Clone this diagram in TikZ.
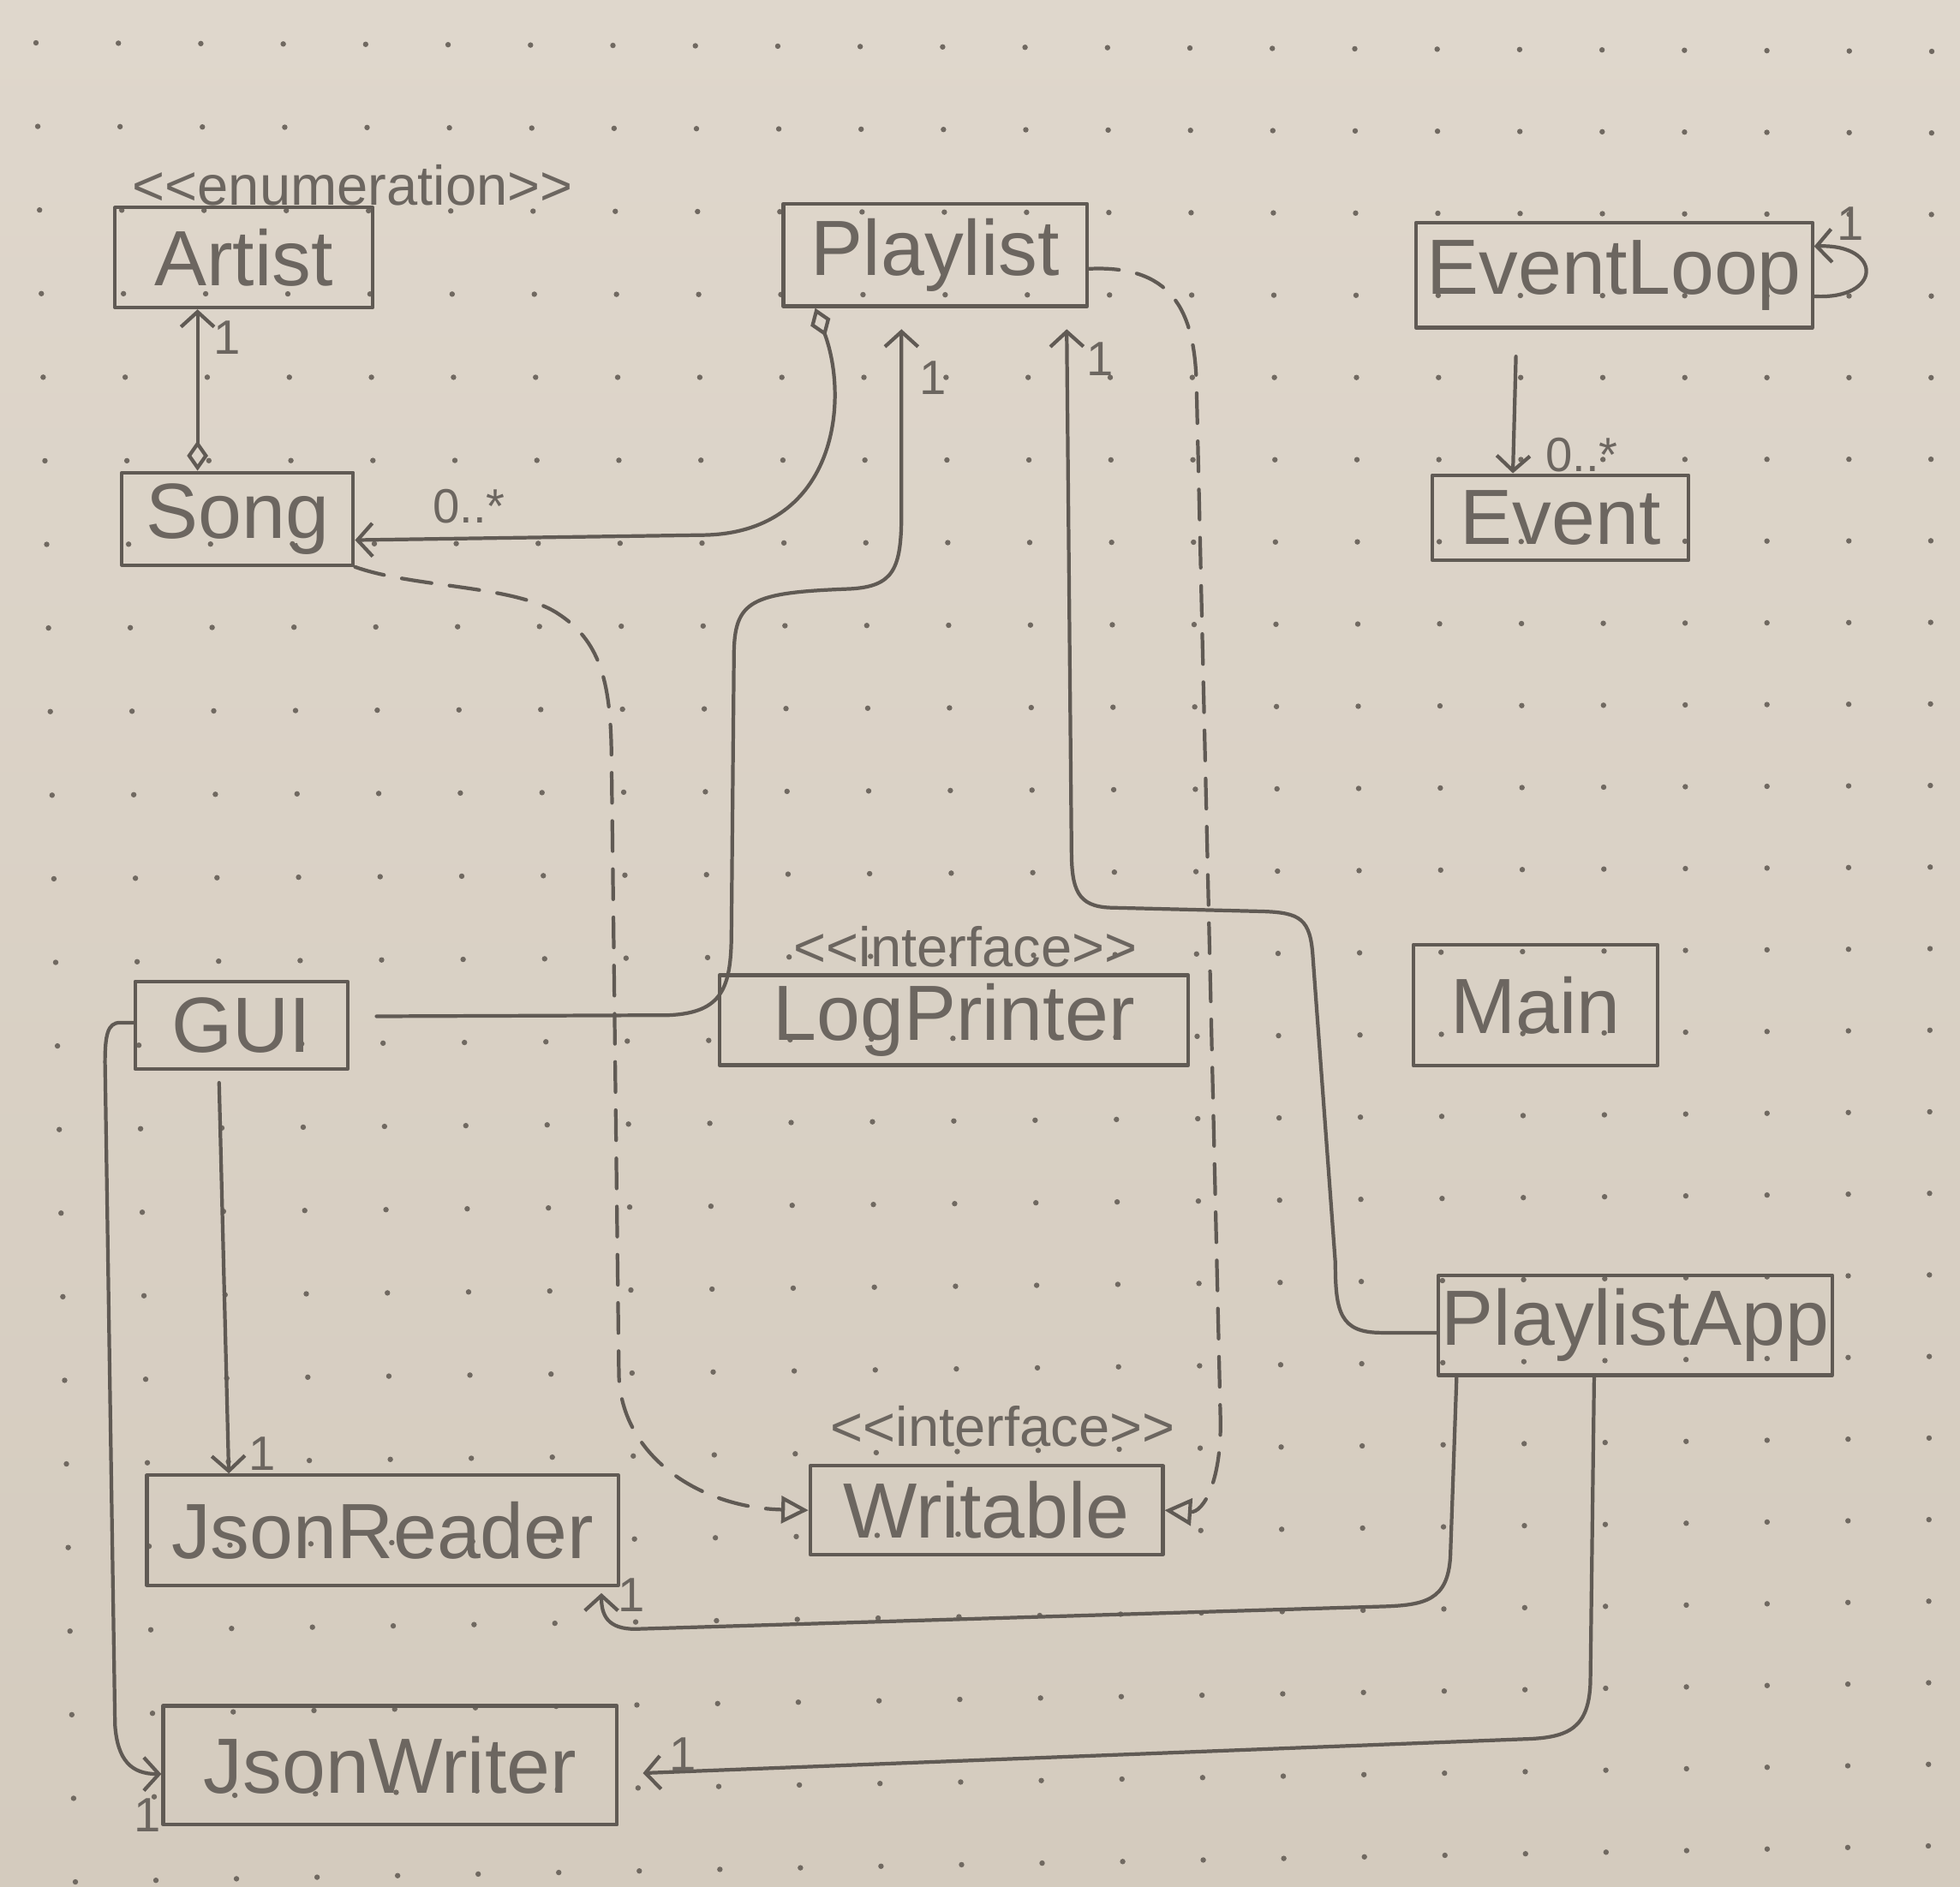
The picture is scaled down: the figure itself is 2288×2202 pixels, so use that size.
\documentclass[tikz,border=0pt]{standalone}
\usepackage{fontspec}
\setmainfont{Liberation Sans}
\usetikzlibrary{arrows.meta}
\definecolor{papertop}{RGB}{223,215,204}
\definecolor{paperbot}{RGB}{212,203,190}
\definecolor{pen}{RGB}{96,90,84}
\definecolor{ink}{RGB}{108,102,96}
\definecolor{dotc}{RGB}{112,105,97}
\newcommand\namefont{\fontsize{26}{28}\selectfont}
\newcommand\stereofont{\fontsize{18.5}{20}\selectfont}
\newcommand\multfont{\fontsize{16}{18}\selectfont}
\def\pxu{*0.01459cm}
\tikzset{
  pencil/.style={draw=pen, line width=1.2pt, line cap=round, line join=round},
  cls/.style={pencil, rectangle, inner sep=0pt, font=\namefont, text=ink},
  stereo/.style={font=\stereofont, text=ink, inner sep=0pt},
  mult/.style={font=\multfont, text=ink, inner sep=0pt},
  assoc/.style={pencil, -{Straight Barb[length=5pt,width=11pt]}},
  aggr/.style={pencil, {Diamond[open,length=10pt,width=7pt]}-{Straight Barb[length=5pt,width=11pt]}},
  real/.style={pencil, dash pattern=on 10pt off 6pt, -{Triangle[open,length=9pt,width=9pt]}},
}
\begin{document}
\begin{tikzpicture}
% ---------- paper (full-pixel units) ----------
\begin{scope}[x=0.01cm, y=-0.01cm]
  \useasboundingbox (0,0) rectangle (2288,2202);
  \shade[top color=papertop, bottom color=paperbot] (0,0) rectangle (2288,2202);
  \foreach \k in {0,...,23}{
    \foreach \j in {0,...,22}{
      \pgfmathsetmacro\gu{\k/23}
      \pgfmathsetmacro\gv{\j/22}
      \pgfmathsetmacro\dotx{(1-\gu)*(1-\gv)*42+\gu*(1-\gv)*2255+(1-\gu)*\gv*88+\gu*\gv*2251}
      \pgfmathsetmacro\doty{(1-\gu)*(1-\gv)*50+\gu*(1-\gv)*60+(1-\gu)*\gv*2197+\gu*\gv*2155}
      \fill[dotc] (\dotx,\doty) circle (0.032cm);
    }
  }
\end{scope}
% ---------- diagram (reduced-pixel units) ----------
\begin{scope}[x=0.01459cm, y=-0.01459cm]
  % classes
  \node[cls, minimum width=206\pxu, minimum height=80\pxu] (artist) at (195,206) {Artist};
  \node[stereo] (enum) at (282,148) {<{}<enumeration>{}>};
  \node[cls, minimum width=185\pxu, minimum height=74\pxu] (song) at (190,415) {Song};
  \node[cls, minimum width=243\pxu, minimum height=82\pxu] (playlist) at (748,204) {Playlist};
  \node[cls, minimum width=317\pxu, minimum height=84\pxu] (eventloop) at (1291,220) {EventLoop};
  \node[cls, minimum width=205\pxu, minimum height=68\pxu] (event) at (1248,414) {Event};
  \node[cls, minimum width=170\pxu, minimum height=70\pxu] (gui) at (193,820) {GUI};
  \node[stereo] (iface1) at (772,757) {<{}<interface>{}>};
  \node[cls, minimum width=375\pxu, minimum height=72\pxu] (logprinter) at (763,816) {LogPrinter};
  \node[cls, minimum width=195\pxu, minimum height=97\pxu] (main) at (1228,804) {Main};
  \node[cls, minimum width=315\pxu, minimum height=80\pxu] (playlistapp) at (1308,1060) {PlaylistApp};
  \node[cls, minimum width=377\pxu, minimum height=88\pxu] (jsonreader) at (306,1224) {JsonReader};
  \node[stereo] (iface2) at (802,1141) {<{}<interface>{}>};
  \node[cls, minimum width=282\pxu, minimum height=71\pxu] (writable) at (789,1208) {Writable};
  \node[cls, minimum width=363\pxu, minimum height=95\pxu] (jsonwriter) at (312,1412) {JsonWriter};

  % Song -> Artist
  \draw[aggr] (158,0 |- song.north) -- (158,0 |- artist.south);
  \node[mult] (m1) at (182,270) {1};

  % Playlist -> Song
  \draw[aggr] (652,0 |- playlist.south) .. controls (680,322) and (668,428) .. (560,428) -- (song.east |- 0,432);
  \node[mult] (m2) at (375,405) {0..*};

  % GUI -> Playlist
  \draw[assoc, shorten <=9pt, shorten >=7pt] (gui.east |- 0,813) -- (535,812) .. controls (578,810) and (585,790) .. (585,745) -- (587,525) .. controls (587,480) and (600,474) .. (680,471) .. controls (715,469) and (721,455) .. (721,410) -- (721,0 |- playlist.south);
  \node[mult] (m3) at (746,302) {1};

  % PlaylistApp -> Playlist
  \draw[assoc, shorten >=7pt] (playlistapp.west |- 0,1066) -- (1105,1066) .. controls (1072,1066) and (1068,1050) .. (1068,1010) -- (1050,765) .. controls (1048,735) and (1040,730) .. (1010,729) -- (888,726) .. controls (862,725) and (857,712) .. (857,680) -- (853,0 |- playlist.south);
  \node[mult] (m4) at (880,287) {1};

  % Song ..> Writable
  \draw[real] (song.south east) .. controls (330,470) and (410,468) .. (445,490) .. controls (480,512) and (488,545) .. (489,600) -- (495,1100) .. controls (497,1165) and (560,1206) .. (writable.west);

  % Playlist ..> Writable
  \draw[real] (playlist.east |- 0,215) .. controls (935,212) and (956,245) .. (957,310) -- (976,1130) .. controls (978,1185) and (962,1210) .. (writable.east);

  % GUI -> JsonReader
  \draw[assoc, shorten <=4pt] (175,0 |- gui.south) -- (183,0 |- jsonreader.north);
  \node[mult] (m5) at (210,1163) {1};

  % GUI -> JsonWriter
  \draw[assoc] (gui.west |- 0,818) -- (96,818) .. controls (86,818) and (84,828) .. (84,850) -- (92,1380) .. controls (94,1408) and (105,1419) .. (jsonwriter.west |- 0,1419);
  \node[mult] (m6) at (118,1452) {1};

  % PlaylistApp -> JsonReader
  \draw[assoc, shorten >=2pt] (1165,0 |- playlistapp.south) -- (1160,1245) .. controls (1158,1280) and (1140,1284) .. (1105,1285) -- (508,1303) .. controls (486,1303) and (481,1292) .. (481,1278) -- (481,0 |- jsonreader.south);
  \node[mult] (m7) at (505,1276) {1};

  % PlaylistApp -> JsonWriter
  \draw[assoc, shorten >=8pt] (1275,0 |- playlistapp.south) -- (1272,1345) .. controls (1271,1382) and (1255,1390) .. (1220,1391) -- (jsonwriter.east |- 0,1419);
  \node[mult] (m8) at (546,1403) {1};

  % EventLoop -> Event
  \draw[assoc, shorten <=9pt] (1213,0 |- eventloop.south) -- (1210,0 |- event.north);
  \node[mult] (m9) at (1265,364) {0..*};

  % EventLoop self association
  \draw[assoc] (eventloop.east |- 0,237) .. controls (1506,240) and (1506,195) .. (eventloop.east |- 0,197);
  \node[mult] (m10) at (1480,179) {1};
\end{scope}
\end{tikzpicture}
\end{document}
